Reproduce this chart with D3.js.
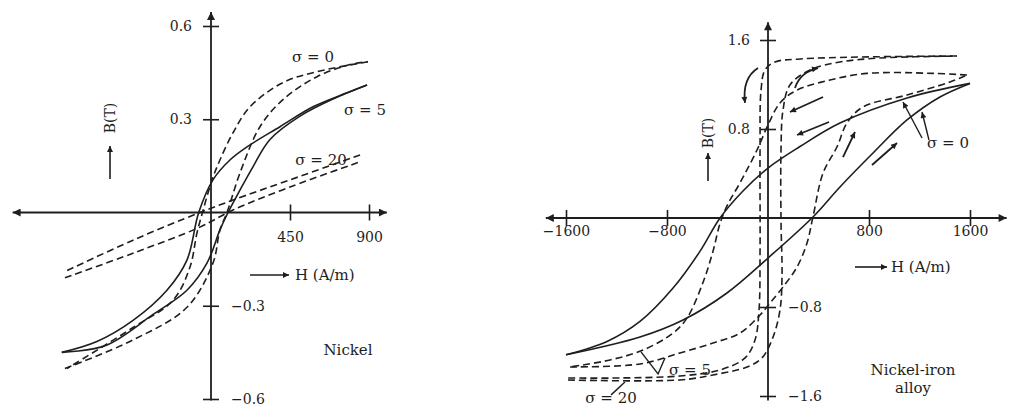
<!DOCTYPE html>
<html><head><meta charset="utf-8">
<script src="https://cdn.jsdelivr.net/npm/d3@7"></script>
<style>html,body{margin:0;padding:0;background:#fff;} svg{display:block;}</style>
</head><body><svg id="c" width="1009" height="408"></svg>
<script>
// ================= DATA =================
// Left panel: Nickel   (H in A/m, B in T)
const nickelHTicks = [450, 900];
const nickelBTicksUp = [0.6, 0.3];
const nickelBTicksDown = [-0.3, -0.6];
// sigma = 5 (solid loop)
const nickelS5Desc = [[889,0.41],[775,0.385],[581,0.34],[393,0.276],[205,0.211],[108,0.169],[11,0.105],[-70,0.0],[-137,-0.153],[-251,-0.25],[-444,-0.347],[-650,-0.415],[-850,-0.45]];
const nickelS5Asc  = [[-850,-0.45],[-600,-0.428],[-330,-0.328],[-137,-0.25],[-23,-0.163],[51,-0.056],[97,0.0],[165,0.072],[239,0.147],[336,0.235],[507,0.31],[695,0.365],[889,0.41]];
// sigma = 0 (dashed, steep loop)
const nickelS0Desc = [[894,0.485],[604,0.453],[410,0.418],[222,0.34],[125,0.256],[51,0.169],[6,0.105],[-46,0.005],[-80,-0.066],[-120,-0.176],[-216,-0.282],[-444,-0.37],[-820,-0.502]];
const nickelS0Asc  = [[-832,-0.502],[-444,-0.41],[-137,-0.305],[11,-0.163],[51,-0.056],[91,0.0],[165,0.127],[279,0.276],[410,0.363],[604,0.437],[792,0.476],[894,0.485]];
// sigma = 20 (dashed, sheared loop)
const nickelS20Desc = [[849,0.185],[450,0.105],[125,0.04],[-63,0.0],[-444,-0.089],[-832,-0.19]];
const nickelS20Asc  = [[-832,-0.21],[-444,-0.131],[-63,-0.047],[125,0.008],[450,0.082],[849,0.163]];

// Right panel: Nickel-iron alloy
const alloyHTicks = [-1600, -800, 800, 1600];
const alloyBTicksUp = [1.6, 0.8];
const alloyBTicksDown = [-0.8, -1.6];
// sigma = 0 (solid loop)
const alloyS0Desc = [[1600,1.21],[1101,1.079],[570,0.854],[250,0.64],[0,0.449],[-200,0.24],[-380,0.0],[-539,-0.3],[-752,-0.63],[-1014,-0.93],[-1275,-1.11],[-1600,-1.23]];
const alloyS0Asc  = [[-1600,-1.23],[-1014,-1.07],[-673,-0.917],[-325,-0.674],[0,-0.36],[356,0.009],[570,0.279],[832,0.584],[1101,0.881],[1362,1.088],[1600,1.21]];
// sigma = 5 (dashed)
const alloyS5Desc = [[1576,1.285],[1307,1.3],[784,1.3],[491,1.24],[230,1.15],[95,1.034],[0,0.836],[-87,0.611],[-222,0.315],[-320,0.12],[-380,-0.05],[-436,-0.3],[-515,-0.58],[-642,-0.9],[-752,-1.034],[-990,-1.187],[-1251,-1.276],[-1568,-1.339]];
const alloyS5Asc  = [[-1568,-1.339],[-1014,-1.312],[-697,-1.213],[-436,-1.124],[-222,-1.034],[-63,-0.872],[16,-0.764],[119,-0.62],[230,-0.44],[309,-0.225],[356,0.009],[436,0.404],[546,0.638],[626,0.854],[752,0.998],[1101,1.106],[1441,1.222],[1576,1.285]];
// sigma = 20 (dashed, square loop)
const alloyS20Desc = [[1497,1.456],[729,1.447],[253,1.429],[55,1.402],[-24,1.33],[-55,1.15],[-63,0.611],[-63,-0.288],[-71,-0.827],[-103,-1.097],[-182,-1.258],[-380,-1.366],[-697,-1.42],[-1172,-1.438],[-1584,-1.438]];
const alloyS20Asc  = [[-1584,-1.456],[-697,-1.456],[-436,-1.411],[-166,-1.339],[-48,-1.258],[40,-1.07],[95,-0.827],[111,-0.53],[103,-0.018],[103,0.611],[119,0.971],[174,1.196],[333,1.33],[570,1.402],[887,1.438],[1497,1.456]];

// ================= LAYOUT =================
const INK = "#1e1e1e";
const FONT = "DejaVu Serif";
const svg = d3.select("#c");
const defs = svg.append("defs");
function marker(id, w, h){
  defs.append("marker").attr("id", id).attr("viewBox","0 0 10 10").attr("refX",10).attr("refY",5)
    .attr("markerWidth", w).attr("markerHeight", h).attr("markerUnits","userSpaceOnUse")
    .attr("orient","auto-start-reverse")
    .append("path").attr("d","M0,0L10,5L0,10z").attr("fill", INK);
}
marker("axArrow", 12, 8);
marker("smArrow", 8, 6);

const xL = d3.scaleLinear().domain([0, 900]).range([211, 369]);
const yL = d3.scaleLinear().domain([-0.6, 0.6]).range([399, 26]);
const xR = d3.scaleLinear().domain([-1600, 1600]).range([566, 970]);
const yR = d3.scaleLinear().domain([-1.6, 1.6]).range([396, 40]);

function panel(x, y, opt){
  const g = svg.append("g");
  g.append("line").attr("x1", x(opt.hExt[0])).attr("x2", x(opt.hExt[1]))
    .attr("y1", y(0)).attr("y2", y(0)).attr("stroke", INK).attr("stroke-width", 1.8)
    .attr("marker-start","url(#axArrow)").attr("marker-end","url(#axArrow)");
  g.append("line").attr("x1", x(0)).attr("x2", x(0))
    .attr("y1", y(opt.bExt[0])).attr("y2", y(opt.bExt[1])).attr("stroke", INK).attr("stroke-width", 1.8)
    .attr("marker-end","url(#axArrow)");
  const ax = g.append("g").attr("transform", `translate(0,${y(0)})`)
    .call(d3.axisBottom(x).tickValues(opt.hTicks).tickSize(8).tickFormat(d3.format("d")));
  ax.select(".domain").remove();
  ax.selectAll(".tick line").attr("y1", -8).attr("y2", 8).attr("stroke", INK).attr("stroke-width", 1.6);
  ax.selectAll("text").attr("y", opt.xLab).attr("dy","0.35em")
    .attr("font-family", FONT).attr("font-size", 14).attr("fill", INK);
  const ayU = g.append("g").attr("transform", `translate(${x(0)},0)`)
    .call(d3.axisLeft(y).tickValues(opt.bUp).tickSize(8).tickPadding(opt.yPadL).tickFormat(d3.format(".1f")));
  ayU.select(".domain").remove();
  ayU.selectAll(".tick line").attr("x1", -8).attr("x2", 8).attr("stroke", INK).attr("stroke-width", 1.6);
  ayU.selectAll("text").attr("font-family", FONT).attr("font-size", 14).attr("fill", INK);
  const ayD = g.append("g").attr("transform", `translate(${x(0)},0)`)
    .call(d3.axisRight(y).tickValues(opt.bDown).tickSize(8).tickPadding(opt.yPadR).tickFormat(d3.format(".1f")));
  ayD.select(".domain").remove();
  ayD.selectAll(".tick line").attr("x1", -8).attr("x2", 8).attr("stroke", INK).attr("stroke-width", 1.6);
  ayD.selectAll("text").attr("font-family", FONT).attr("font-size", 14).attr("fill", INK);
  return g;
}

function curves(g, x, y, series){
  const line = d3.line().x(d => x(d[0])).y(d => y(d[1])).curve(d3.curveCatmullRom.alpha(0.5));
  series.forEach(s => {
    g.append("path").attr("d", line(s.data)).attr("fill","none").attr("stroke", INK)
      .attr("stroke-width", 1.6).attr("stroke-dasharray", s.dashed ? "7,4" : null);
  });
}

function text(g, px, py, str, size, anchor){
  return g.append("text").attr("x", px).attr("y", py).attr("dy","0.35em").attr("text-anchor", anchor || "start")
    .attr("font-family", FONT).attr("font-size", size).attr("fill", INK).text(str);
}
function arrowLine(g, x1, y1, x2, y2, mk, w){
  g.append("line").attr("x1",x1).attr("y1",y1).attr("x2",x2).attr("y2",y2)
    .attr("stroke", INK).attr("stroke-width", w || 1.6).attr("marker-end", `url(#${mk})`);
}

// ---------- Left panel ----------
const gL = panel(xL, yL, {hExt:[-1130, 1002], bExt:[-0.605, 0.645], hTicks: nickelHTicks,
  bUp: nickelBTicksUp, bDown: nickelBTicksDown, xLab: 25, yPadL: 11, yPadR: 12});
curves(gL, xL, yL, [
  {data: nickelS5Desc, dashed:false}, {data: nickelS5Asc, dashed:false},
  {data: nickelS0Desc, dashed:true},  {data: nickelS0Asc, dashed:true},
  {data: nickelS20Desc, dashed:true}, {data: nickelS20Asc, dashed:true}
]);
text(gL, 313, 57, "σ = 0", 15, "middle");
text(gL, 365, 110, "σ = 5", 15, "middle");
text(gL, 321, 160, "σ = 20", 15, "middle");
text(gL, 348, 350, "Nickel", 15, "middle");
arrowLine(gL, 250, 275, 289, 275, "smArrow");
text(gL, 295, 275, "H (A/m)", 15, "start");
arrowLine(gL, 110, 179, 110, 146, "smArrow");
gL.append("text").attr("transform","translate(110,118) rotate(-90)").attr("dy","0.35em")
  .attr("text-anchor","middle").attr("font-family",FONT).attr("font-size",14).attr("fill",INK).text("B(T)");

// ---------- Right panel ----------
const gR = panel(xR, yR, {hExt:[-1760, 1890], bExt:[-1.64, 1.76], hTicks: alloyHTicks,
  bUp: alloyBTicksUp, bDown: alloyBTicksDown, xLab: 13, yPadL: 10, yPadR: 12});
curves(gR, xR, yR, [
  {data: alloyS0Desc, dashed:false}, {data: alloyS0Asc, dashed:false},
  {data: alloyS5Desc, dashed:true},  {data: alloyS5Asc, dashed:true},
  {data: alloyS20Desc, dashed:true}, {data: alloyS20Asc, dashed:true}
]);
// direction arrows
gR.append("path").attr("d", `M${xR(-79)},${yR(1.348)} Q${xR(-206)},${yR(1.258)} ${xR(-182)},${yR(1.034)}`)
  .attr("fill","none").attr("stroke",INK).attr("stroke-width",1.8).attr("marker-end","url(#smArrow)");
gR.append("path").attr("d", `M${xR(214)},${yR(1.169)} Q${xR(253)},${yR(1.312)} ${xR(396)},${yR(1.348)}`)
  .attr("fill","none").attr("stroke",INK).attr("stroke-width",1.8).attr("marker-end","url(#smArrow)");
arrowLine(gR, xR(436), yR(1.088), xR(174), yR(0.953), "smArrow", 1.8);
arrowLine(gR, xR(483), yR(0.863), xR(230), yR(0.746), "smArrow", 1.8);
arrowLine(gR, xR(594), yR(0.548), xR(689), yR(0.773), "smArrow", 1.8);
arrowLine(gR, xR(824), yR(0.476), xR(1022), yR(0.674), "smArrow", 1.8);
// sigma = 0 leaders
arrowLine(gR, xR(1220), yR(0.719), xR(1069), yR(1.043), "smArrow", 1.4);
arrowLine(gR, xR(1275), yR(0.701), xR(1220), yR(0.953), "smArrow", 1.4);
text(gR, 948, 143, "σ = 0", 15, "middle");
// sigma = 5 leader
gR.append("path").attr("d", `M${xR(-1006)},${yR(-1.204)} L${xR(-871)},${yR(-1.402)} L${xR(-816)},${yR(-1.258)}`)
  .attr("fill","none").attr("stroke",INK).attr("stroke-width",1.4);
text(gR, 690, 370, "σ = 5", 15, "middle");
// sigma = 20 leader
gR.append("line").attr("x1", xR(-1243)).attr("y1", yR(-1.59)).attr("x2", xR(-1133)).attr("y2", yR(-1.474))
  .attr("stroke",INK).attr("stroke-width",1.4);
text(gR, 611, 398, "σ = 20", 15, "middle");
text(gR, 913, 370, "Nickel-iron", 15, "middle");
text(gR, 913, 388, "alloy", 15, "middle");
arrowLine(gR, 855, 267, 887, 267, "smArrow");
text(gR, 891, 267, "H (A/m)", 15, "start");
arrowLine(gR, 708, 181, 708, 153, "smArrow");
gR.append("text").attr("transform","translate(708,133) rotate(-90)").attr("dy","0.35em")
  .attr("text-anchor","middle").attr("font-family",FONT).attr("font-size",14).attr("fill",INK).text("B(T)");
</script>
</body></html>
